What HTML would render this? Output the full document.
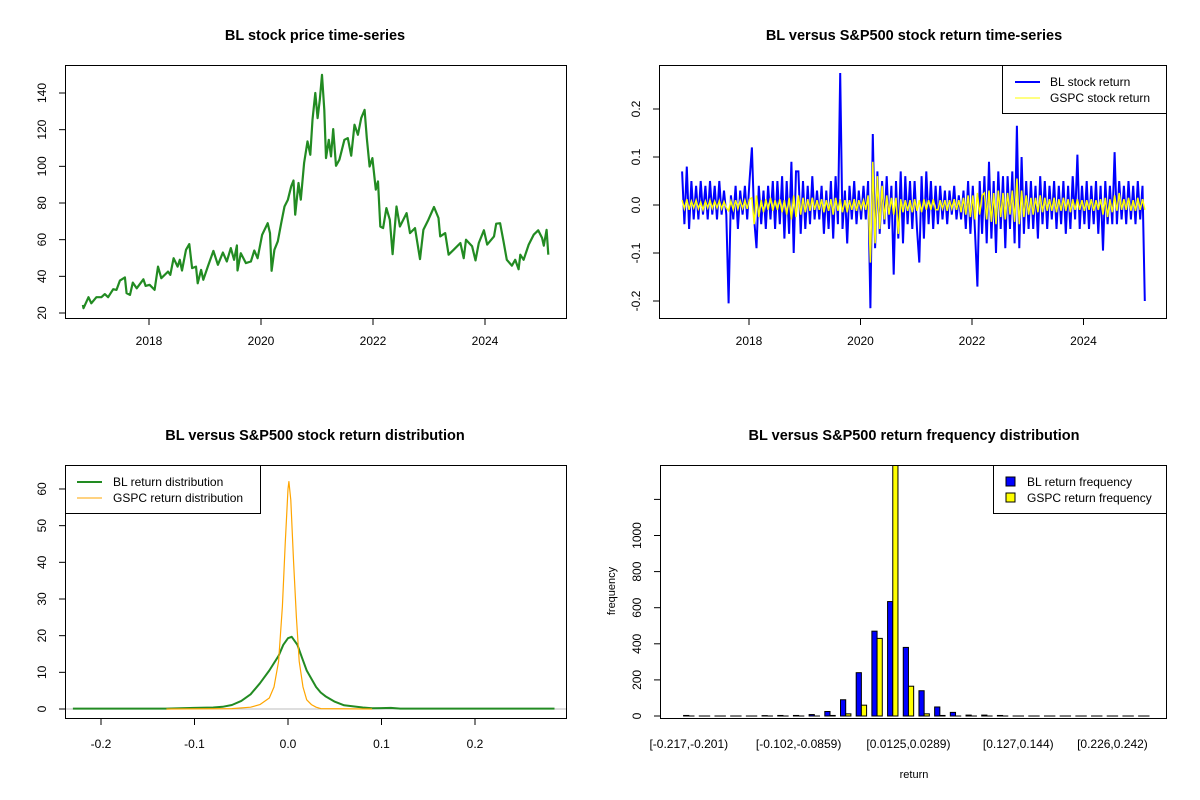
<!DOCTYPE html>
<html><head><meta charset="utf-8"><style>
body{margin:0;background:#fff}
svg{display:block;font-family:"Liberation Sans",Arial,sans-serif}
</style></head><body>
<svg id="c" width="1200" height="800" xmlns="http://www.w3.org/2000/svg"></svg>
<script>
// ---------- data ----------
const priceYears=[2016.82,2016.83,2016.92,2016.97,2017.06,2017.15,2017.21,2017.27,2017.36,2017.42,2017.48,2017.57,2017.60,2017.66,2017.71,2017.78,2017.90,2017.94,2018.01,2018.10,2018.16,2018.22,2018.34,2018.38,2018.44,2018.51,2018.55,2018.59,2018.66,2018.72,2018.77,2018.84,2018.87,2018.93,2018.97,2019.05,2019.15,2019.23,2019.32,2019.39,2019.46,2019.52,2019.57,2019.58,2019.64,2019.73,2019.82,2019.88,2019.94,2020.02,2020.12,2020.16,2020.19,2020.24,2020.30,2020.36,2020.42,2020.48,2020.54,2020.58,2020.61,2020.67,2020.71,2020.77,2020.83,2020.88,2020.92,2020.97,2021.01,2021.05,2021.09,2021.13,2021.16,2021.21,2021.25,2021.29,2021.34,2021.40,2021.49,2021.55,2021.61,2021.67,2021.73,2021.79,2021.85,2021.89,2021.94,2021.99,2022.05,2022.09,2022.13,2022.18,2022.24,2022.30,2022.35,2022.42,2022.48,2022.60,2022.66,2022.75,2022.84,2022.90,2022.99,2023.09,2023.17,2023.20,2023.29,2023.35,2023.44,2023.56,2023.62,2023.66,2023.77,2023.83,2023.89,2023.98,2024.04,2024.16,2024.20,2024.27,2024.33,2024.39,2024.48,2024.54,2024.60,2024.63,2024.69,2024.78,2024.87,2024.95,2025.02,2025.05,2025.10,2025.13];
const priceValues=[24.4,22.6,28.6,25.3,28.6,28.6,30.3,28.6,33,32.6,37.7,39.4,30.8,29.9,36.6,33.5,38.4,34.8,35.4,32.6,45.3,39,42.6,40.8,49.9,45.3,49,43.2,54.5,57.6,44.5,45.3,36.2,43.5,38.1,45.3,53.9,46.3,53,48.1,55.4,49,56.9,43.2,52.6,47.2,48.1,54.1,49.9,62.6,69,63.6,43,54.5,59.1,69,78.1,81.8,89.1,92.3,73.6,90.9,81.8,101.8,113.6,106.3,125.4,140,126.3,136.3,149.9,130.8,104.5,114.5,105.4,120.3,100.3,103.6,114.5,115.4,105.8,122.7,117.2,126.3,130.8,115.4,99.9,104.5,87.3,91.8,67.2,66.3,77.2,70.9,52.1,78.1,67.2,74.5,63.6,66.3,49.4,65.4,70.9,77.8,71.8,61.8,63.6,51.8,54.5,58.2,49.9,60,56.4,48.7,58.2,65.1,57.3,61.8,68.7,69,59.1,49,45.8,49,43.9,51.8,49,57.3,62.7,65.1,60.9,56.7,65.4,51.8];
const priceTicksX=[2018,2020,2022,2024];
const priceTicksY=[20,40,60,80,100,120,140];

const retStart=2016.8, retEnd=2025.1;
const blReturns=[0.07,-0.04,0.08,-0.05,0.05,-0.03,0.04,-0.03,0.05,-0.02,
0.04,-0.03,0.05,-0.02,0.04,-0.03,0.05,-0.02,0.03,-0.02,
-0.205,0.02,-0.03,0.04,-0.05,0.03,-0.02,0.04,-0.03,0.05,
0.12,-0.03,-0.09,0.04,-0.04,0.03,-0.05,0.04,-0.03,0.05,
-0.05,0.05,-0.04,0.06,-0.07,0.05,-0.06,0.09,-0.10,0.07,
0.07,-0.06,0.05,-0.05,0.04,-0.04,0.06,-0.03,0.03,-0.03,
0.04,-0.06,0.03,-0.05,0.05,-0.07,0.06,-0.04,0.275,-0.05,
0.03,-0.08,0.04,-0.03,0.05,-0.04,0.03,-0.03,0.04,-0.03,
0.05,-0.215,0.148,-0.09,0.07,-0.06,0.05,-0.04,0.06,-0.05,
0.04,-0.145,0.05,-0.07,0.07,-0.08,0.06,-0.04,0.05,-0.05,
0.05,-0.05,-0.12,0.06,-0.07,0.07,-0.04,0.05,-0.05,0.04,
-0.04,0.04,-0.03,0.03,-0.04,0.03,-0.02,0.04,-0.03,0.02,
-0.03,0.03,-0.05,0.05,-0.06,0.04,-0.06,-0.17,0.05,-0.06,
0.06,-0.08,0.09,-0.07,0.05,-0.10,0.07,-0.05,0.06,-0.09,
0.06,-0.05,0.07,-0.08,0.165,-0.09,0.10,-0.06,0.05,-0.05,
0.05,-0.05,0.04,-0.07,0.06,-0.04,0.05,-0.05,0.04,-0.03,
0.05,-0.05,0.04,-0.04,0.05,-0.06,0.04,-0.05,0.06,-0.03,
0.105,-0.05,0.04,-0.04,0.05,-0.05,0.04,-0.04,0.05,-0.06,
0.04,-0.095,0.05,-0.04,0.04,-0.04,0.11,-0.04,0.05,-0.03,
0.04,-0.04,0.05,-0.03,0.04,-0.04,0.05,-0.03,0.04,-0.2];
const gspcReturns=[0.01,-0.008,0.012,-0.01,0.008,-0.006,0.01,-0.008,0.006,-0.01,
0.008,-0.006,0.01,-0.007,0.008,-0.006,0.009,-0.008,0.007,-0.006,
-0.012,0.008,-0.01,0.01,-0.008,0.009,-0.007,0.01,-0.008,0.012,
0.015,-0.04,0.02,-0.025,0.01,-0.015,0.012,-0.01,0.015,-0.012,
0.01,-0.01,0.012,-0.015,0.01,-0.02,0.015,-0.03,0.02,-0.025,
0.02,-0.02,0.015,-0.015,0.012,-0.012,0.015,-0.01,0.01,-0.01,
0.012,-0.015,0.01,-0.012,0.012,-0.02,0.015,-0.012,0.012,-0.015,
0.01,-0.015,0.01,-0.01,0.012,-0.012,0.01,-0.008,0.01,-0.01,
0.02,-0.12,0.09,-0.08,0.06,-0.05,0.04,-0.03,0.02,-0.02,
0.015,-0.02,0.015,-0.06,0.012,-0.015,0.01,-0.012,0.01,-0.015,
0.012,-0.012,0.01,-0.015,0.012,-0.01,0.01,-0.01,0.012,-0.01,
-0.01,0.01,-0.008,0.01,-0.012,0.01,-0.008,0.012,-0.01,0.01,
-0.015,0.015,-0.02,0.02,-0.025,0.02,-0.03,0.025,-0.02,0.02,
0.025,-0.03,0.03,-0.035,0.025,-0.04,0.03,-0.025,0.025,-0.03,
0.025,-0.02,0.03,-0.035,0.055,-0.04,0.03,-0.025,0.02,-0.02,
0.015,-0.02,0.015,-0.015,0.02,-0.015,0.015,-0.012,0.012,-0.012,
0.015,-0.015,0.012,-0.012,0.015,-0.012,0.012,-0.015,0.012,-0.01,
0.012,-0.01,0.01,-0.012,0.01,-0.01,0.012,-0.012,0.01,-0.01,
0.012,-0.02,0.015,-0.025,0.012,-0.015,0.02,-0.012,0.025,-0.01,
0.012,-0.01,0.015,-0.012,0.01,-0.012,0.015,-0.01,0.012,-0.01];
const retTicksX=[2018,2020,2022,2024];
const retTicksY=[-0.2,-0.1,0,0.1,0.2];
const retTickLabels=["-0.2","-0.1","0.0","0.1","0.2"];

const blDensX=[-0.23,-0.13,-0.1,-0.08,-0.07,-0.06,-0.05,-0.04,-0.03,-0.02,-0.01,-0.005,0,0.004,0.01,0.015,0.02,0.03,0.035,0.04,0.05,0.06,0.07,0.08,0.09,0.11,0.12,0.285];
const blDensY=[0.1,0.1,0.3,0.4,0.6,1.1,2.2,4,7,10.5,14.5,17.5,19.3,19.7,17.5,14,10.5,6,4.5,3.5,2,1,0.7,0.4,0.2,0.3,0.1,0.1];
const gspcDensX=[-0.13,-0.06,-0.04,-0.03,-0.02,-0.015,-0.01,-0.006,-0.003,0,0.001,0.003,0.006,0.009,0.012,0.016,0.02,0.025,0.03,0.035,0.09];
const gspcDensY=[0,0.1,0.5,1.2,3,6,13,28,45,60,62,57,40,25,13,6,2.5,1.2,0.5,0.1,0];
const densTicksX=[-0.2,-0.1,0,0.1,0.2];
const densTickLabelsX=["-0.2","-0.1","0.0","0.1","0.2"];
const densTicksY=[0,10,20,30,40,50,60];

const histBL=[3,0,0,0,0,2,3,3,8,25,90,240,470,634,380,140,50,20,5,5,3,0,0,0,0,0,0,0,0,0];
const histGSPC=[0,0,0,0,0,0,0,0,0,3,12,60,430,1500,165,12,3,0,0,0,0,0,0,0,0,0,0,0,0,0];
const histLabelBins=[0,7,14,21,27];
const histLabels=["[-0.217,-0.201)","[-0.102,-0.0859)","[0.0125,0.0289)","[0.127,0.144)","[0.226,0.242)"];
const histTicksY=[0,200,400,600,800,1000,1200];
const histTickLabels=["0","200","400","600","800","1000",""];

// ---------- helpers ----------
const svg=document.getElementById('c');
const NS="http://www.w3.org/2000/svg";
function mk(tag,attrs,parent){const e=document.createElementNS(NS,tag);for(const k in attrs)e.setAttribute(k,attrs[k]);(parent||svg).appendChild(e);return e;}
function txt(x,y,s,size,opts,parent){const e=mk('text',Object.assign({x:x,y:y,'font-size':size,'text-anchor':'middle',fill:'#000'},opts||{}),parent);e.textContent=s;return e;}
function group(name){const g=mk('g',{});return g;}

// ---------- Plot 1: price ----------
(function(){
const g=group('price-chart');
const X=v=>149+(v-2018)*56, Y=v=>313-(v-20)*1.8333;
const t=txt(315,40,'BL stock price time-series',14.5,{'font-weight':'bold'},g);

let d=priceYears.map((yr,i)=>(i?'L':'M')+X(yr).toFixed(1)+' '+Y(priceValues[i]).toFixed(1)).join(' ');
const p=mk('path',{d:d,fill:'none',stroke:'#228B22','stroke-width':2.2,'stroke-linejoin':'round'},g);

const b=mk('rect',{x:65.5,y:65.5,width:501,height:253,fill:'none',stroke:'#000'},g);

priceTicksX.forEach(v=>{const x=X(v);mk('line',{x1:x,x2:x,y1:318.5,y2:325,stroke:'#000'},g);
 const l=txt(x,345,String(v),12,{},g);});
priceTicksY.forEach(v=>{const y=Y(v);mk('line',{x1:59,x2:65.5,y1:y,y2:y,stroke:'#000'},g);
 const l=txt(0,0,String(v),12,{transform:`translate(46,${y}) rotate(-90)`},g);});
})();

// ---------- Plot 2: returns ----------
(function(){
const g=group('return-series-chart');
const X=v=>749+(v-2018)*55.75, Y=v=>205-v*480;
const t=txt(914,40,'BL versus S&P500 stock return time-series',14.5,{'font-weight':'bold'},g);

const step=(retEnd-retStart)/(blReturns.length-1);
const d1=blReturns.map((v,i)=>(i?'L':'M')+X(retStart+i*step).toFixed(1)+' '+Y(v).toFixed(1)).join(' ');
const p1=mk('path',{d:d1,fill:'none',stroke:'#0000FF','stroke-width':2},g);

const step2=(retEnd-retStart)/(gspcReturns.length-1);
const d2=gspcReturns.map((v,i)=>(i?'L':'M')+X(retStart+i*step2).toFixed(1)+' '+Y(v).toFixed(1)).join(' ');
const p2=mk('path',{d:d2,fill:'none',stroke:'#FFFF00','stroke-width':1.5},g);

const b=mk('rect',{x:659.5,y:65.5,width:507,height:253,fill:'none',stroke:'#000'},g);

retTicksX.forEach(v=>{const x=X(v);mk('line',{x1:x,x2:x,y1:318.5,y2:325,stroke:'#000'},g);
 const l=txt(x,345,String(v),12,{},g);});
retTicksY.forEach((v,i)=>{const y=Y(v);mk('line',{x1:653,x2:659.5,y1:y,y2:y,stroke:'#000'},g);
 const l=txt(0,0,retTickLabels[i],12,{transform:`translate(640,${y}) rotate(-90)`},g);});
const lg=mk('g',{},g);
mk('rect',{x:1002.5,y:65.5,width:164,height:48,fill:'#fff',stroke:'#000'},lg);
mk('line',{x1:1015,x2:1040,y1:82,y2:82,stroke:'#0000FF','stroke-width':2},lg);
mk('line',{x1:1015,x2:1040,y1:98,y2:98,stroke:'#FFFF00','stroke-width':1},lg);
txt(1050,86,'BL stock return',12,{'text-anchor':'start'},lg);
txt(1050,102,'GSPC stock return',12,{'text-anchor':'start'},lg);
})();

// ---------- Plot 3: density ----------
(function(){
const g=group('density-chart');
const X=v=>288+v*935, Y=v=>709-v*3.667;
const t=txt(315,440,'BL versus S&P500 stock return distribution',14.5,{'font-weight':'bold'},g);

mk('line',{x1:65,x2:566,y1:709,y2:709,stroke:'#bebebe'},g);
const d1=blDensX.map((v,i)=>(i?'L':'M')+X(v).toFixed(1)+' '+Y(blDensY[i]).toFixed(1)).join(' ');
const p1=mk('path',{d:d1,fill:'none',stroke:'#228B22','stroke-width':2,'stroke-linejoin':'round'},g);

const d2=gspcDensX.map((v,i)=>(i?'L':'M')+X(v).toFixed(1)+' '+Y(gspcDensY[i]).toFixed(1)).join(' ');
const p2=mk('path',{d:d2,fill:'none',stroke:'#FFA500','stroke-width':1.2,'stroke-linejoin':'round'},g);

const b=mk('rect',{x:65.5,y:465.5,width:501,height:253,fill:'none',stroke:'#000'},g);

densTicksX.forEach((v,i)=>{const x=X(v);mk('line',{x1:x,x2:x,y1:718.5,y2:725,stroke:'#000'},g);
 const l=txt(x,748,densTickLabelsX[i],12,{},g);});
densTicksY.forEach(v=>{const y=Y(v);mk('line',{x1:59,x2:65.5,y1:y,y2:y,stroke:'#000'},g);
 const l=txt(0,0,String(v),12,{transform:`translate(46,${y}) rotate(-90)`},g);});
const lg=mk('g',{},g);
mk('rect',{x:65.5,y:465.5,width:195,height:48,fill:'#fff',stroke:'#000'},lg);
mk('line',{x1:77,x2:102,y1:482,y2:482,stroke:'#228B22','stroke-width':2},lg);
mk('line',{x1:77,x2:102,y1:498,y2:498,stroke:'#FFA500','stroke-width':1},lg);
txt(113,486,'BL return distribution',12,{'text-anchor':'start'},lg);
txt(113,502,'GSPC return distribution',12,{'text-anchor':'start'},lg);
})();

// ---------- Plot 4: histogram ----------
(function(){
const g=group('histogram-chart');
const G=i=>688.8+i*15.69, Y=v=>716-v*0.1805, bw=5.2;
const t=txt(914,440,'BL versus S&P500 return frequency distribution',14.5,{'font-weight':'bold'},g);

const cp=mk('clipPath',{id:'hclip'},g);mk('rect',{x:660,y:465,width:507,height:254},cp);
const bars=mk('g',{'clip-path':'url(#hclip)'},g);
histBL.forEach((v,i)=>{const y=Y(v);const r=mk('rect',{x:G(i)-bw,y:y,width:bw,height:Math.max(716-y,0.01),fill:'#0000FF',stroke:'#000','stroke-width':1},bars);
 });
histGSPC.forEach((v,i)=>{const y=Y(v);const r=mk('rect',{x:G(i),y:y,width:bw,height:Math.max(716-y,0.01),fill:'#FFFF00',stroke:'#000','stroke-width':1},bars);
 });
const b=mk('rect',{x:660.5,y:465.5,width:506,height:253,fill:'none',stroke:'#000'},g);

histTicksY.forEach((v,i)=>{const y=Y(v);mk('line',{x1:654,x2:660.5,y1:y,y2:y,stroke:'#000'},g);
 const l=txt(0,0,histTickLabels[i],12,{transform:`translate(641,${y}) rotate(-90)`},g);});
histLabelBins.forEach((bi,i)=>{const l=txt(G(bi),748,histLabels[i],12,{},g);});
const xl=txt(914,778,'return',11,{},g);
const yl=txt(0,0,'frequency',11,{transform:'translate(615,591) rotate(-90)'},g);
const lg=mk('g',{},g);
mk('rect',{x:993.5,y:465.5,width:173,height:48,fill:'#fff',stroke:'#000'},lg);
mk('rect',{x:1006,y:477,width:9,height:9,fill:'#0000FF',stroke:'#000'},lg);
mk('rect',{x:1006,y:493,width:9,height:9,fill:'#FFFF00',stroke:'#000'},lg);
txt(1027,486,'BL return frequency',12,{'text-anchor':'start'},lg);
txt(1027,502,'GSPC return frequency',12,{'text-anchor':'start'},lg);
})();
</script>
</body></html>
